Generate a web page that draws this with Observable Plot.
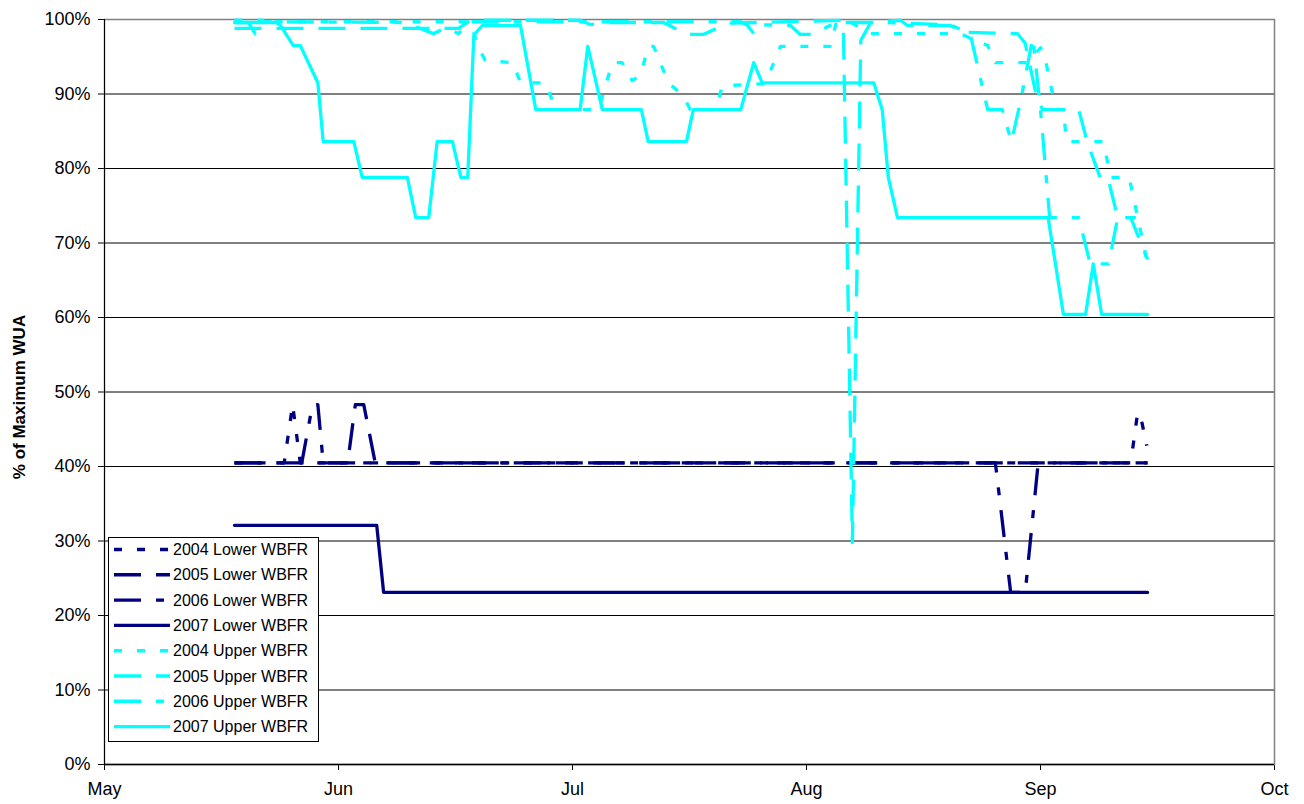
<!DOCTYPE html>
<html>
<head>
<meta charset="utf-8">
<script src="https://cdn.jsdelivr.net/npm/d3@7"></script>
<script src="https://cdn.jsdelivr.net/npm/@observablehq/plot@0.6"></script>
<style>
  body { margin: 0; background: #fff; }
  #chart { width: 1304px; height: 804px; }
</style>
</head>
<body>
<div id="chart"></div>
<script>
// ---- Axis tick values / labels ----
const monthTicks = [0, 30.6, 61.2, 91.8, 122.4, 153];   // days since May 1
const monthLabels = ["May", "Jun", "Jul", "Aug", "Sep", "Oct"];
const pctTicks = [0, 10, 20, 30, 40, 50, 60, 70, 80, 90, 100];
const gridValues = [10, 20, 30, 40, 50, 60, 70, 80, 90];
const yTitle = "% of Maximum WUA";

// ---- Series names ----
const seriesNames = [
  "2004 Lower WBFR", "2005 Lower WBFR", "2006 Lower WBFR", "2007 Lower WBFR",
  "2004 Upper WBFR", "2005 Upper WBFR", "2006 Upper WBFR", "2007 Upper WBFR"
];

// ---- Series values: [day since May 1, % of maximum WUA] ----
const lower2004 = [[17,40.5],[23.5,40.5],[24.6,48.3],[25.6,40.5],[134.2,40.5],[135.1,47.2],[135.5,46.7],[136.3,42.8]];
const lower2005 = [[17,40.5],[31.8,40.5],[32.8,48.3],[33.9,48.3],[35.4,40.5],[136.4,40.5]];
const lower2006 = [[17,40.5],[25.8,40.5],[27.2,48.3],[27.9,48.3],[28.6,40.5],[116.5,40.5],[118.5,23.1],[120.4,23.1],[122.1,40.5],[136.4,40.5]];
const lower2007 = [[17,32.1],[35.6,32.1],[36.5,23.1],[136.4,23.1]];

const upper2004 = [[17,99.9],[20.7,99.9],[21.4,98.9],[22.4,99.7],[47.9,99.7],[48.8,96.4],[49.8,94.5],[53.4,94.2],
  [54.4,91.5],[57.7,91.5],[59.0,87.9],[64.6,87.9],[66.4,94.2],[67.7,94.2],[69.0,91.8],[70.1,92.5],[71.1,96.4],
  [71.8,96.4],[73.8,91.4],[75.6,89.9],[76.6,87.9],[79.9,87.9],[80.8,91.1],[86.4,91.4],[88.4,96.4],[94.9,96.4],
  [95.7,99.6],[97.6,99.6],[100.2,98.1],[111.9,98.1],[115.5,96.5],[116.5,94.2],[120.7,94.2],[122.4,96.2],
  [122.8,95.8],[124.4,87.9],[125.4,87.9],[125.8,83.6],[130.6,83.6],[131.6,78.8],[134.0,78.8],[136.4,67.2]];
const upper2005 = [[17,98.8],[46.3,98.8],[47.9,99.9],[62.2,99.9],[63.6,99.3],[65.3,99.6],[73.1,99.6],[76.2,98.0],
  [78.3,98.0],[81.5,99.5],[96.6,99.9],[97.8,29.8],[98.9,97.2],[100.2,99.6],[104.1,99.9],[105.0,99.2],[110.6,99.2],
  [112.3,98.3],[119.4,98.1],[120.4,96.8],[122.0,89.1],[122.7,87.9],[127.4,87.9],[128.5,83.6],[130.2,78.8],
  [131.2,78.8],[132.5,73.4],[134.2,73.4],[136.4,67.8]];
const upper2006 = [[17,99.6],[18.8,99.6],[19.7,98.1],[20.7,99.7],[38.7,99.6],[41.3,98.8],[43.0,98.1],[44.6,98.9],
  [46.3,98.1],[47.6,99.7],[83.2,99.7],[84.1,99.2],[84.9,98.1],[85.8,99.3],[89.7,99.2],[91.0,98.0],[92.7,98.0],
  [95.6,99.6],[101.5,99.6],[110.6,99.3],[113.2,98.1],[114.9,90.5],[115.5,87.9],[117.4,87.9],[118.6,83.6],
  [119.8,89.1],[121.4,97.6],[122.4,87.9],[123.6,73.4],[127.4,73.4],[128.9,67.2],[131.3,67.2],[132.5,73.4],[136.4,73.4]];
const upper2007 = [[17,99.6],[22.4,99.6],[23.0,99.2],[24.7,96.5],[25.6,96.5],[27.9,91.5],[28.6,83.6],[32.6,83.6],
  [33.7,78.8],[39.6,78.8],[40.7,73.4],[42.4,73.4],[43.5,83.6],[45.5,83.6],[46.6,78.8],[47.5,78.8],[48.3,97.9],
  [49.4,99.2],[54.4,99.2],[56.4,87.9],[62.2,87.9],[63.2,96.4],[65.1,87.9],[70.2,87.9],[71.1,83.6],[76.1,83.6],
  [77.0,87.9],[83.2,87.9],[84.9,94.2],[86.0,91.5],[100.6,91.5],[101.7,87.9],[102.5,78.8],[103.7,73.4],[123.4,73.4],
  [125.4,60.4],[128.3,60.4],[129.3,67.2],[130.4,60.4],[136.4,60.4]];

const seriesData = [lower2004, lower2005, lower2006, lower2007, upper2004, upper2005, upper2006, upper2007];

// ---- Styles (kept apart from the data) ----
const NAVY = "#000080", CYAN = "#00FFFF";
const seriesColors = [NAVY, NAVY, NAVY, NAVY, CYAN, CYAN, CYAN, CYAN];
const seriesDash = ["8,15", "27,15", "27,15,8,15", null, "8,15", "27,15", "27,15,8,15", null];
const FONT = "'Liberation Sans', Arial, Helvetica, sans-serif";

const lineMarks = seriesData.map((pts, i) => Plot.line(pts, {
  x: d => d[0],
  y: d => d[1],
  stroke: seriesColors[i],
  strokeWidth: 3.3,
  strokeDasharray: seriesDash[i] || undefined,
  strokeLinecap: seriesDash[i] ? "butt" : "round",
  strokeLinejoin: "round"
}));

const chart = Plot.plot({
  width: 1304,
  height: 804,
  marginLeft: 104,
  marginRight: 30,
  marginTop: 19,
  marginBottom: 40,
  style: { fontFamily: FONT, fontSize: "18px", background: "#fff", color: "#000", overflow: "visible" },
  x: {
    domain: [0, 153],
    ticks: monthTicks,
    tickFormat: d => monthLabels[monthTicks.indexOf(d)],
    tickSize: 6,
    tickPadding: 12,
    label: null
  },
  y: {
    domain: [0, 100],
    ticks: pctTicks,
    tickFormat: d => d + "%",
    tickSize: 6,
    tickPadding: 8,
    label: null
  },
  marks: [
    Plot.ruleY(gridValues, { stroke: "#000", strokeWidth: 1 }),
    Plot.frame({ stroke: "#808080", strokeWidth: 1.5 }),
    Plot.ruleY([0], { stroke: "#000", strokeWidth: 1.5 }),
    Plot.ruleX([0], { stroke: "#000", strokeWidth: 1 }),
    ...lineMarks
  ]
});

const svg = d3.select(chart);

// ---- Y axis title ----
svg.append("text")
  .attr("transform", "translate(25,397) rotate(-90)")
  .attr("text-anchor", "middle")
  .attr("font-family", FONT).attr("font-size", 17).attr("font-weight", "bold")
  .attr("fill", "#000")
  .text(yTitle);

// ---- Legend (inside the plot area, lower left) ----
const lg = svg.append("g").attr("class", "legend").attr("text-anchor", "start");
const box = { x: 108.5, y: 537.5, w: 210, h: 204 };
lg.append("rect")
  .attr("x", box.x).attr("y", box.y).attr("width", box.w).attr("height", box.h)
  .attr("fill", "#fff").attr("stroke", "#000").attr("stroke-width", 1);
seriesNames.forEach((name, i) => {
  const cy = 549.5 + i * 25.3;
  lg.append("line")
    .attr("x1", 114).attr("x2", 170).attr("y1", cy).attr("y2", cy)
    .attr("stroke", seriesColors[i]).attr("stroke-width", 3.4)
    .attr("stroke-dasharray", seriesDash[i])
    .attr("stroke-linecap", "butt");
  lg.append("text")
    .attr("x", 173).attr("y", cy)
    .attr("dy", "0.35em")
    .attr("text-anchor", "start")
    .attr("font-family", FONT).attr("font-size", 16).attr("fill", "#000")
    .text(name);
});

document.getElementById("chart").appendChild(chart);
</script>
</body>
</html>
